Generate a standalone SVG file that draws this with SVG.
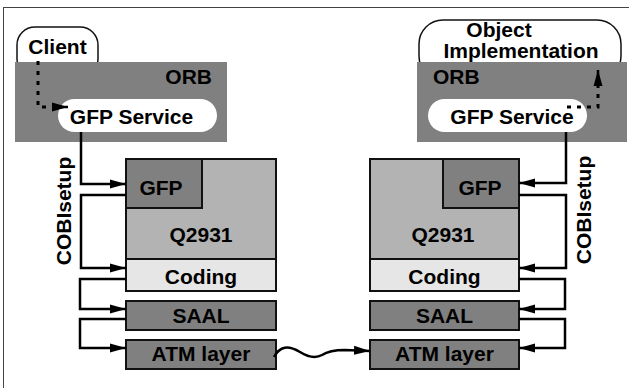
<svg xmlns="http://www.w3.org/2000/svg" width="629" height="388" viewBox="0 0 629 388">
<defs>
<style>
text{font-family:"Liberation Sans",Arial,sans-serif;font-weight:bold;font-size:21px;fill:#000}
.box{stroke:#111;stroke-width:2}
.dk{fill:#808080}
.md{fill:#b3b3b3}
.lt{fill:#e6e6e6}
.ln{fill:none;stroke:#000;stroke-width:2.5}
.dot{fill:none;stroke:#000;stroke-width:3;stroke-dasharray:4 6}
</style>
<marker id="ah" markerUnits="userSpaceOnUse" markerWidth="18" markerHeight="10" refX="16" refY="5" orient="auto">
<path d="M0,0.5 L16,5 L0,9.5 Z" fill="#000"/>
</marker>
</defs>
<rect x="3.5" y="7.5" width="700" height="500" fill="#fff" stroke="#444" stroke-width="1"/>

<g id="client">
<rect x="17" y="27" width="81" height="50" rx="18" fill="#fff" stroke="#111" stroke-width="1.5"/>
<text x="57.5" y="54" text-anchor="middle">Client</text>
</g>
<g id="object-implementation">
<rect x="419" y="20" width="202" height="60" rx="24" fill="#fff" stroke="#111" stroke-width="1.5"/>
<text x="499" y="37" text-anchor="middle" font-size="20">Object</text>
<text x="521" y="58" text-anchor="middle" font-size="20">Implementation</text>
</g>

<g id="orb-left">
<rect x="15" y="62" width="212" height="80" class="dk"/>
<text x="212" y="84" text-anchor="end">ORB</text>
</g>
<g id="gfp-service-left">
<rect x="58" y="99" width="159" height="33" rx="16.5" fill="#fff"/>
<text x="131.5" y="124" text-anchor="middle">GFP Service</text>
</g>
<g id="orb-right">
<rect x="417" y="62" width="210" height="80" class="dk"/>
<text x="433" y="84">ORB</text>
</g>
<g id="gfp-service-right">
<rect x="428" y="99" width="159" height="33" rx="16.5" fill="#fff"/>
<text x="512" y="124" text-anchor="middle">GFP Service</text>
</g>

<g id="q2931-left">
<rect x="126" y="159" width="150" height="100" class="box md"/>
<text x="201" y="242" text-anchor="middle">Q2931</text>
</g>
<g id="gfp-left">
<rect x="126" y="159" width="76" height="49" class="box dk"/>
<text x="161" y="195" text-anchor="middle">GFP</text>
</g>
<g id="coding-left">
<rect x="126" y="259" width="150" height="32" class="box lt"/>
<text x="201" y="284" text-anchor="middle">Coding</text>
</g>
<g id="saal-left">
<rect x="126" y="301" width="150" height="29" class="box dk"/>
<text x="201" y="323" text-anchor="middle">SAAL</text>
</g>
<g id="atm-left">
<rect x="126" y="340" width="150" height="29" class="box dk"/>
<text x="201" y="361" text-anchor="middle">ATM layer</text>
</g>

<g id="q2931-right">
<rect x="370" y="159" width="149" height="100" class="box md"/>
<text x="443" y="242" text-anchor="middle">Q2931</text>
</g>
<g id="gfp-right">
<rect x="443" y="159" width="76" height="49" class="box dk"/>
<text x="480" y="195" text-anchor="middle">GFP</text>
</g>
<g id="coding-right">
<rect x="370" y="259" width="149" height="32" class="box lt"/>
<text x="444.5" y="284" text-anchor="middle">Coding</text>
</g>
<g id="saal-right">
<rect x="370" y="301" width="149" height="29" class="box dk"/>
<text x="444.5" y="323" text-anchor="middle">SAAL</text>
</g>
<g id="atm-right">
<rect x="370" y="340" width="149" height="29" class="box dk"/>
<text x="444.5" y="361" text-anchor="middle">ATM layer</text>
</g>

<g id="labels">
<text transform="translate(71,211) rotate(-90)" text-anchor="middle">COBIsetup</text>
<text transform="translate(591,210) rotate(-90)" text-anchor="middle">COBIsetup</text>
</g>

<g id="connectors">
<path class="dot" d="M38,61 V107 H52" />
<path d="M52,107 H68" class="ln" marker-end="url(#ah)" stroke-width="3"/>
<path class="dot" d="M567,107 H598 V84"/>
<path d="M598,86 V70" class="ln" marker-end="url(#ah)" stroke-width="3"/>

<path class="ln" d="M81,132 V184 H126" marker-end="url(#ah)"/>
<path class="ln" d="M126,195 H81 V268 H126" marker-end="url(#ah)"/>
<path class="ln" d="M126,279 H80 V309 H126" marker-end="url(#ah)"/>
<path class="ln" d="M126,319 H80 V348 H126" marker-end="url(#ah)"/>

<path class="ln" d="M566,132 V183 H519" marker-end="url(#ah)"/>
<path class="ln" d="M519,195 H566 V268 H519" marker-end="url(#ah)"/>
<path class="ln" d="M519,279 H565 V309 H519" marker-end="url(#ah)"/>
<path class="ln" d="M519,319 H565 V348 H519" marker-end="url(#ah)"/>

<path class="ln" d="M274,357 C280,346 288,345 300,352 C308,357 315,359 322,355 C328,351 335,350 345,350 L370,351" marker-end="url(#ah)"/>
</g>
</svg>
